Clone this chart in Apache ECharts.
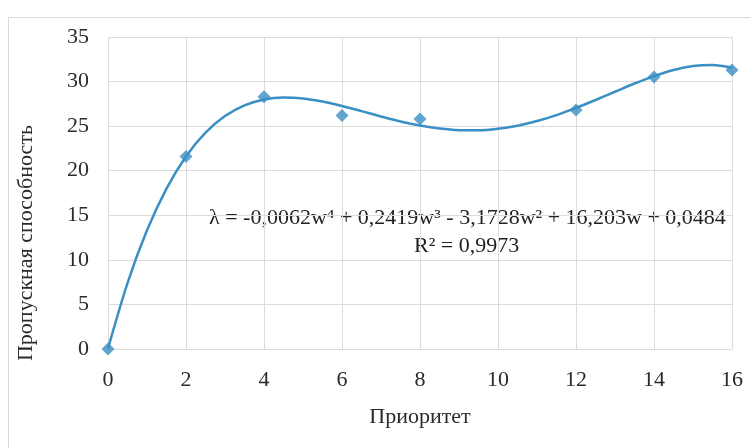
<!DOCTYPE html>
<html><head><meta charset="utf-8">
<script src="https://cdn.jsdelivr.net/npm/echarts@6/dist/echarts.min.js"></script>
<style>html,body{margin:0;padding:0;background:#fff}#c{width:750px;height:448px}</style>
</head><body><div id="c"></div>
<script>
const pointX = [0, 2, 4, 6, 8, 12, 14, 16];
const pointY = [0, 21.6, 28.3, 26.2, 25.8, 26.8, 30.5, 31.3];
const trendX = [0, 0.5, 1, 1.5, 2, 2.5, 3, 3.5, 4, 4.5, 5, 5.5, 6, 6.5, 7, 7.5, 8, 8.5, 9, 9.5, 10, 10.5, 11, 11.5, 12, 12.5, 13, 13.5, 14, 14.5, 15, 15.5, 16];
const trendY = [0.05, 7.39, 13.31, 18.0, 21.6, 24.26, 26.13, 27.33, 27.99, 28.21, 28.11, 27.76, 27.26, 26.68, 26.09, 25.53, 25.07, 24.73, 24.55, 24.53, 24.70, 25.05, 25.57, 26.24, 27.04, 27.93, 28.86, 29.78, 30.61, 31.30, 31.75, 31.87, 31.56];
const xTicks = {min: 0, max: 16, interval: 2};
const yTicks = {min: 0, max: 35, interval: 5};
const xTitle = 'Приоритет';
const yTitle = 'Пропускная способность';
const eqText = 'λ = -0,0062w⁴ + 0,2419w³ - 3,1728w² + 16,203w + 0,0484';
const r2Text = 'R² = 0,9973';

const font = '"Liberation Serif", "DejaVu Serif", serif';
const chart = echarts.init(document.getElementById('c'));
chart.setOption({
  backgroundColor: '#fff',
  animation: false,
  grid: {left: 108, right: 18, top: 37, bottom: 99},
  xAxis: {
    type: 'value', min: xTicks.min, max: xTicks.max, interval: xTicks.interval,
    name: xTitle, nameLocation: 'middle', nameGap: 57,
    nameTextStyle: {fontFamily: font, fontSize: 22, color: '#2a2a2a', verticalAlign: 'top'},
    axisLine: {show: false}, axisTick: {show: false},
    axisLabel: {fontFamily: font, fontSize: 22, color: '#2a2a2a', margin: 20},
    splitLine: {show: true, lineStyle: {color: '#dcdcdc', width: 1}}
  },
  yAxis: {
    type: 'value', min: yTicks.min, max: yTicks.max, interval: yTicks.interval,
    axisLine: {show: false}, axisTick: {show: false},
    axisLabel: {fontFamily: font, fontSize: 22, color: '#2a2a2a', margin: 19},
    splitLine: {show: true, lineStyle: {color: '#dcdcdc', width: 1}}
  },
  graphic: [
    {type: 'rect', left: 6, top: 15, shape: {width: 760, height: 460}, style: {fill: 'none', stroke: '#d9d9d9', lineWidth: 1}, silent: true},
    {type: 'text', x: 26, y: 243, rotation: Math.PI / 2,
     style: {text: yTitle, font: '22px ' + font, fill: '#2a2a2a', align: 'center', verticalAlign: 'middle'}},
    {type: 'text', left: 209, top: 207, style: {text: eqText, font: '22px ' + font, fill: '#222'}},
    {type: 'text', left: 414, top: 235, style: {text: r2Text, font: '22px ' + font, fill: '#222'}}
  ],
  series: [
    {
      type: 'line', smooth: 0.3, showSymbol: false,
      data: trendX.map((x, i) => [x, trendY[i]]),
      lineStyle: {color: '#3a8fc4', width: 2.5}, z: 2
    },
    {
      type: 'scatter', symbol: 'diamond', symbolSize: 13,
      data: pointX.map((x, i) => [x, pointY[i]]),
      itemStyle: {color: '#3a8fc4'}, z: 3
    }
  ]
});
</script></body></html>
